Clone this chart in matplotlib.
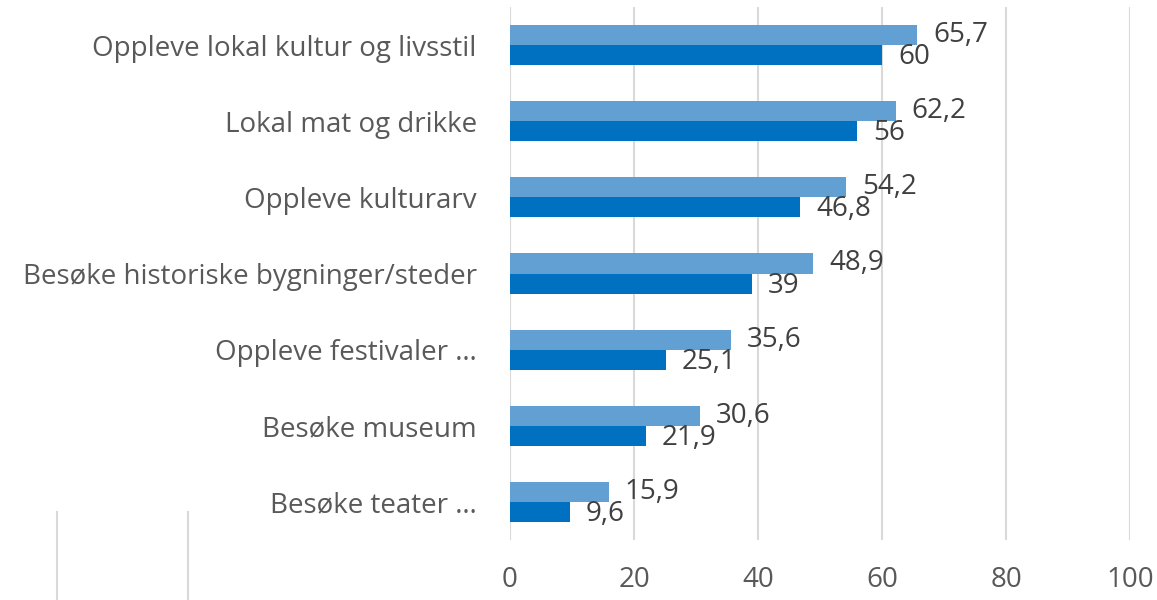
import numpy as np
import matplotlib.pyplot as plt
from matplotlib.lines import Line2D

categories = ['Oppleve lokal kultur og livsstil', 'Lokal mat og drikke', 'Oppleve kulturarv',
              'Besøke historiske bygninger/steder', 'Oppleve festivaler …', 'Besøke museum',
              'Besøke teater …']
series_a = [65.7, 62.2, 54.2, 48.9, 35.6, 30.6, 15.9]
series_b = [60, 56, 46.8, 39, 25.1, 21.9, 9.6]
xticks = [0, 20, 40, 60, 80, 100]

plt.rcParams['font.family'] = ['Open Sans', 'DejaVu Sans']

fig = plt.figure(figsize=(11.57, 6), dpi=100)
ax = fig.add_axes([0.4408, 0.1, 0.5359, 0.8883])

y = np.arange(len(categories))
h = 0.263
ax.barh(y - h / 2, series_a, height=h, color='#629FD3', zorder=3)
ax.barh(y + h / 2, series_b, height=h, color='#0070C0', zorder=3)

fmt = lambda v: ('%g' % v).replace('.', ',')
for i in range(len(categories)):
    ax.annotate(fmt(series_a[i]), (series_a[i], y[i] - h / 2), xytext=(16, 0),
                textcoords='offset pixels', va='center', ha='left', fontsize=20, color='#404040')
    ax.annotate(fmt(series_b[i]), (series_b[i], y[i] + h / 2), xytext=(16, -2),
                textcoords='offset pixels', va='center', ha='left', fontsize=20, color='#404040')

ax.set_xlim(0, 100)
ax.set_ylim(len(categories) - 0.5, -0.5)
ax.set_xticks(xticks)
ax.set_yticks(y)
ax.set_yticklabels(categories)
ax.grid(axis='x', color='#D9D9D9', linewidth=1.5, zorder=0)
for s in ax.spines.values():
    s.set_visible(False)
ax.tick_params(length=0, labelsize=20, labelcolor='#595959')
ax.tick_params(axis='x', pad=19)
ax.tick_params(axis='y', pad=24)

# leftover frame lines at the bottom left
for xp in (57, 188):
    fig.add_artist(Line2D([xp / 1157, xp / 1157], [0, 1 - 512 / 600], color='#D9D9D9', linewidth=1.5))

fig.savefig('out.png', dpi=100)
